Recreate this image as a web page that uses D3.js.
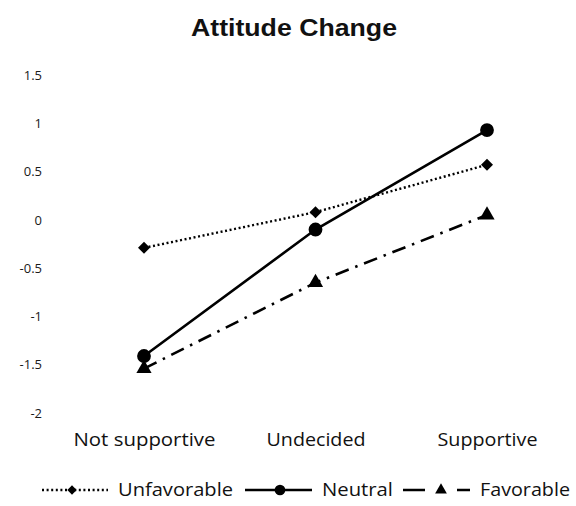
<!DOCTYPE html>
<html>
<head>
<meta charset="utf-8">
<script src="https://cdn.jsdelivr.net/npm/d3@7"></script>
<style>
html,body{margin:0;padding:0;background:#fff;}
svg{display:block;}
</style>
</head>
<body>
<svg id="chart" width="576" height="506"></svg>
<script>
const categories = ["Not supportive", "Undecided", "Supportive"];
const unfavorable = [-0.29, 0.08, 0.57];
const neutral = [-1.41, -0.10, 0.93];
const favorable = [-1.54, -0.65, 0.05];
const yTicks = [1.5, 1, 0.5, 0, -0.5, -1, -1.5, -2];
const seriesNames = ["Unfavorable", "Neutral", "Favorable"];
const title = "Attitude Change";

const svg = d3.select("#chart");
const font = "'Open Sans', 'Noto Sans', sans-serif";

const x = d3.scalePoint().domain(categories).range([144, 487]);
const y = d3.scaleLinear().domain([-2, 1.5]).range([413, 75]);

svg.append("text")
  .attr("x", 294).attr("y", 36)
  .attr("text-anchor", "middle")
  .attr("font-family", "'Liberation Sans', Arial, sans-serif")
  .attr("font-weight", "bold")
  .attr("font-size", 24)
  .attr("textLength", 206)
  .attr("lengthAdjust", "spacingAndGlyphs")
  .attr("fill", "#111")
  .text(title);

// y axis (labels only)
const yAxis = d3.axisLeft(y).tickValues(yTicks).tickSize(0).tickPadding(0)
  .tickFormat(d => String(d));
const yg = svg.append("g").attr("transform", "translate(42,0)").call(yAxis);
yg.select(".domain").remove();
yg.selectAll("text").attr("font-family", font).attr("font-size", 13).attr("fill", "#1a1a1a");

// x axis (labels only)
const catWidths = {"Not supportive": 142, "Undecided": 99, "Supportive": 100};
const xAxis = d3.axisBottom(x).tickSize(0).tickPadding(0);
const xg = svg.append("g").attr("transform", "translate(0,433)").call(xAxis);
xg.select(".domain").remove();
xg.selectAll("text").attr("font-family", font).attr("font-size", 18.5).attr("fill", "#111")
  .attr("textLength", d => catWidths[d]).attr("lengthAdjust", "spacingAndGlyphs");

const series = [
  {name: seriesNames[0], values: unfavorable, dash: "2,2.6", width: 2.4, marker: "diamond"},
  {name: seriesNames[1], values: neutral, dash: null, width: 2.6, marker: "circle"},
  {name: seriesNames[2], values: favorable, dash: "14,7,2.5,7", width: 2.6, marker: "triangle"}
];

const symbolFor = m => m === "diamond" ? d3.symbolSquare : (m === "circle" ? d3.symbolCircle : d3.symbolTriangle);
const sizeFor = m => m === "diamond" ? 72 : (m === "circle" ? 150 : 100);
const rotFor = m => m === "diamond" ? 45 : 0;

const line = d3.line().x((d, i) => x(categories[i])).y(d => y(d));

series.forEach(s => {
  svg.append("path")
    .attr("d", line(s.values))
    .attr("fill", "none")
    .attr("stroke", "#000")
    .attr("stroke-width", s.width)
    .attr("stroke-dasharray", s.dash);
  svg.selectAll(null).data(s.values).enter().append("path")
    .attr("d", d3.symbol().type(symbolFor(s.marker)).size(sizeFor(s.marker)))
    .attr("transform", (d, i) => `translate(${x(categories[i])},${y(d)}) rotate(${rotFor(s.marker)})`)
    .attr("fill", "#000");
});

// legend
const legendY = 490;
const legendItems = [
  {s: series[0], x1: 42, x2: 108, mx: 72, tx: 118, w: 115, dash: "2,2.6"},
  {s: series[1], x1: 245, x2: 312, mx: 280, tx: 322, w: 71, dash: null},
  {s: series[2], x1: 403, x2: 470, mx: 441, tx: 480, w: 90, dash: "22,32,13"}
];
legendItems.forEach(it => {
  svg.append("line")
    .attr("x1", it.x1).attr("x2", it.x2).attr("y1", legendY).attr("y2", legendY)
    .attr("stroke", "#000").attr("stroke-width", it.s.width)
    .attr("stroke-dasharray", it.dash);
  svg.append("path")
    .attr("d", d3.symbol().type(symbolFor(it.s.marker)).size(sizeFor(it.s.marker) * 0.6))
    .attr("transform", `translate(${it.mx},${legendY}) rotate(${rotFor(it.s.marker)})`)
    .attr("fill", "#000");
  svg.append("text")
    .attr("x", it.tx).attr("y", legendY).attr("dy", "0.35em")
    .attr("font-family", font).attr("font-size", 18.5).attr("fill", "#111")
    .attr("textLength", it.w).attr("lengthAdjust", "spacingAndGlyphs")
    .text(it.s.name);
});
</script>
</body>
</html>
